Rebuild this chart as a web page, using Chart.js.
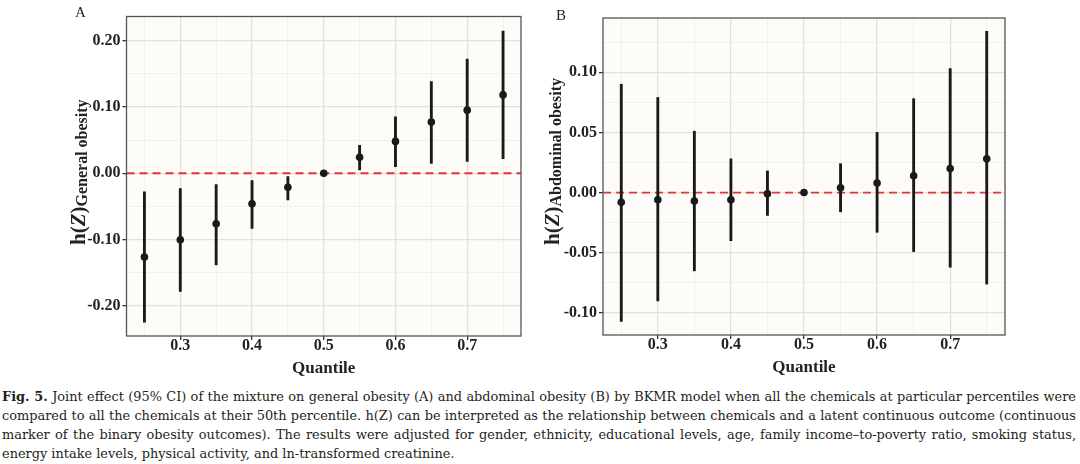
<!DOCTYPE html>
<html>
<head>
<meta charset="utf-8">
<script src="https://cdn.jsdelivr.net/npm/chart.js@4.4.1/dist/chart.umd.min.js"></script>
<style>
  html, body { margin: 0; padding: 0; background: #fff; width: 1080px; height: 464px; overflow: hidden; }
  .panel { position: absolute; top: 0; }
  .letter { position: absolute; font: 15px "Liberation Serif", serif; line-height: 15px; color: #222; }
  #caption { position: absolute; left: 2px; top: 387px; width: 1074px; font: 13px "DejaVu Serif", serif; line-height: 19px; color: #231f20; }
  #caption div { text-align: justify; text-align-last: justify; white-space: nowrap; overflow: hidden; }
  #caption div.last { text-align-last: left; }
</style>
</head>
<body>
<div class="panel" style="left:0"><canvas id="chartA" width="540" height="380"></canvas></div>
<div class="panel" style="left:540px"><canvas id="chartB" width="540" height="380"></canvas></div>
<div class="letter" style="left:75px; top:5px">A</div>
<div class="letter" style="left:556px; top:8px">B</div>
<div id="caption">
  <div><b>Fig. 5.</b> Joint effect (95% CI) of the mixture on general obesity (A) and abdominal obesity (B) by BKMR model when all the chemicals at particular percentiles were</div>
  <div>compared to all the chemicals at their 50th percentile. h(Z) can be interpreted as the relationship between chemicals and a latent continuous outcome (continuous</div>
  <div>marker of the binary obesity outcomes). The results were adjusted for gender, ethnicity, educational levels, age, family income–to-poverty ratio, smoking status,</div>
  <div class="last">energy intake levels, physical activity, and ln-transformed creatinine.</div>
</div>
<script>
const quantiles = [0.25, 0.30, 0.35, 0.40, 0.45, 0.50, 0.55, 0.60, 0.65, 0.70, 0.75];

// A: general obesity
const estA  = [-0.126, -0.100, -0.076, -0.046, -0.021, 0.000, 0.024, 0.048, 0.077, 0.095, 0.118];
const lowA  = [-0.224, -0.178, -0.138, -0.083, -0.040, 0.000, 0.005, 0.010, 0.015, 0.018, 0.022];
const highA = [-0.028, -0.023, -0.017, -0.011, -0.005, 0.000, 0.042, 0.085, 0.138, 0.172, 0.214];

// B: abdominal obesity
const estB  = [-0.008, -0.006, -0.007, -0.006, -0.001, 0.000, 0.004, 0.008, 0.014, 0.020, 0.028];
const lowB  = [-0.107, -0.090, -0.065, -0.040, -0.019, 0.000, -0.016, -0.033, -0.049, -0.062, -0.076];
const highB = [0.090, 0.079, 0.051, 0.028, 0.018, 0.000, 0.024, 0.050, 0.078, 0.103, 0.134];

const xMajor = [0.3, 0.4, 0.5, 0.6, 0.7];
const xLabels = ["0.3", "0.4", "0.5", "0.6", "0.7"];
const xMinor = [0.25, 0.35, 0.45, 0.55, 0.65, 0.75];

const yMajorA = [-0.2, -0.1, 0, 0.1, 0.2];
const yLabelsA = ["-0.20", "-0.10", "0.00", "0.10", "0.20"];
const yMinorA = [-0.15, -0.05, 0.05, 0.15];

const yMajorB = [-0.1, -0.05, 0, 0.05, 0.1];
const yLabelsB = ["-0.10", "-0.05", "0.00", "0.05", "0.10"];
const yMinorB = [-0.075, -0.025, 0.025, 0.075, 0.125];

const colorInk = "#1a1a1a",
  colorText = "#222",
  colorGridMajor = "#e4e0db",
  colorGridMinor = "#efece8",
  colorPanel = "#fdfcf8",
  colorRef = "#e8333a";

const tickFont = { family: "Liberation Serif", size: 16, weight: "bold", lineHeight: 0.75 };

const findIndex = (list, v) => list.findIndex((m) => Math.abs(m - v) < 1e-9);

const axisTicks = (major, minor) => (scale) => {
  scale.ticks = major.concat(minor).sort((a, b) => a - b).map((v) => ({ value: v }));
};

const panelPlugin = {
  id: "panel",
  beforeDraw(chart) {
    const { ctx, chartArea: a } = chart;
    ctx.save();
    ctx.fillStyle = colorPanel;
    ctx.fillRect(a.left, a.top, a.right - a.left, a.bottom - a.top);
    ctx.restore();
  },
  beforeDatasetsDraw(chart) {
    const { ctx, chartArea: a } = chart;
    const y = chart.scales.y.getPixelForValue(0);
    ctx.save();
    ctx.strokeStyle = colorRef;
    ctx.lineWidth = 1.8;
    ctx.setLineDash([8, 5]);
    ctx.beginPath();
    ctx.moveTo(a.left, y);
    ctx.lineTo(a.right, y);
    ctx.stroke();
    ctx.restore();
  },
  afterDatasetsDraw(chart) {
    const { ctx, chartArea: a } = chart;
    ctx.save();
    ctx.strokeStyle = "#555";
    ctx.lineWidth = 1.3;
    ctx.strokeRect(a.left, a.top, a.right - a.left, a.bottom - a.top);
    ctx.restore();
  },
  afterDraw(chart, args, opts) {
    // y title: h(Z) with a subscript, rotated
    const { ctx } = chart;
    ctx.save();
    ctx.translate(opts.x, opts.y);
    ctx.rotate(-Math.PI / 2);
    ctx.fillStyle = colorText;
    ctx.textBaseline = "alphabetic";
    ctx.textAlign = "left";
    let x = 0;
    const part = (text, font, dy) => {
      ctx.font = font;
      ctx.fillText(text, x, dy);
      x += ctx.measureText(text).width;
    };
    part("h(", 'bold 21px "Liberation Serif"', 0);
    part("Z", 'italic bold 21px "Liberation Serif"', 0);
    part(")", 'bold 21px "Liberation Serif"', 0);
    part(opts.sub, 'bold 16px "Liberation Serif"', 2);
    ctx.restore();
  },
};

function makePanel(id, est, low, high, yMajor, yLabels, yMinor, yMin, yMax, pad, yWidth, xHeight, titlePad, title) {
  return new Chart(document.getElementById(id), {
    type: "bar",
    data: {
      datasets: [
        {
          type: "scatter",
          data: quantiles.map((q, i) => ({ x: q, y: est[i] })),
          backgroundColor: colorInk,
          borderWidth: 0,
          pointRadius: 3.8,
          order: 0,
        },
        {
          type: "bar",
          data: quantiles.map((q, i) => ({ x: q, y: [low[i], high[i]] })),
          backgroundColor: colorInk,
          borderWidth: 0,
          barThickness: 2.2,
          grouped: false,
          order: 1,
        },
      ],
    },
    options: {
      responsive: false,
      animation: false,
      layout: { padding: pad },
      plugins: {
        legend: { display: false },
        tooltip: { enabled: false },
        panel: title,
      },
      scales: {
        x: {
          type: "linear",
          min: 0.225,
          max: 0.775,
          offset: false,
          afterBuildTicks: axisTicks(xMajor, xMinor),
          afterFit: (s) => { s.height = xHeight; },
          border: { display: false },
          grid: {
            offset: false,
            color: (c) => (findIndex(xMajor, c.tick.value) >= 0 ? colorGridMajor : colorGridMinor),
            lineWidth: (c) => (findIndex(xMajor, c.tick.value) >= 0 ? 1.3 : 0.8),
            tickColor: (c) => (findIndex(xMajor, c.tick.value) >= 0 ? "#333" : "transparent"),
            tickLength: 4,
          },
          ticks: {
            autoSkip: false,
            maxRotation: 0,
            padding: 0,
            color: colorText,
            font: tickFont,
            callback: (v) => { const k = findIndex(xMajor, v); return k >= 0 ? xLabels[k] : ""; },
          },
          title: {
            display: true,
            text: "Quantile",
            color: colorText,
            font: { family: "Liberation Serif", size: 17, weight: "bold", lineHeight: 1 },
            padding: { top: 0, bottom: titlePad },
          },
        },
        y: {
          min: yMin,
          max: yMax,
          afterBuildTicks: axisTicks(yMajor, yMinor),
          afterFit: (s) => { s.width = yWidth; },
          border: { display: false },
          grid: {
            color: (c) => (findIndex(yMajor, c.tick.value) >= 0 ? colorGridMajor : colorGridMinor),
            lineWidth: (c) => (findIndex(yMajor, c.tick.value) >= 0 ? 1.3 : 0.8),
            tickColor: (c) => (findIndex(yMajor, c.tick.value) >= 0 ? "#333" : "transparent"),
            tickLength: 4,
          },
          ticks: {
            autoSkip: false,
            padding: 2,
            color: colorText,
            font: tickFont,
            callback: (v) => { const k = findIndex(yMajor, v); return k >= 0 ? yLabels[k] : ""; },
          },
        },
      },
    },
    plugins: [panelPlugin],
  });
}

makePanel("chartA", estA, lowA, highA, yMajorA, yLabelsA, yMinorA, -0.245, 0.236,
  { left: 0, right: 19, top: 16.5, bottom: 0 }, 126.5, 44, 2.5,
  { x: 85, y: 245, sub: "General obesity" });

makePanel("chartB", estB, lowB, highB, yMajorB, yLabelsB, yMinorB, -0.1183, 0.145,
  { left: 0, right: 75, top: 18, bottom: 0 }, 63, 45, 3.5,
  { x: 19, y: 245, sub: "Abdominal obesity" });

// shrink the caption font until every line fits its box
const caption = document.getElementById("caption");
let captionSize = 13;
const overflowing = () => [...caption.children].some((d) => d.scrollWidth > d.clientWidth + 0.5);
while (overflowing() && captionSize > 10) {
  captionSize -= 0.1;
  caption.style.fontSize = captionSize + "px";
}
</script>
</body>
</html>
